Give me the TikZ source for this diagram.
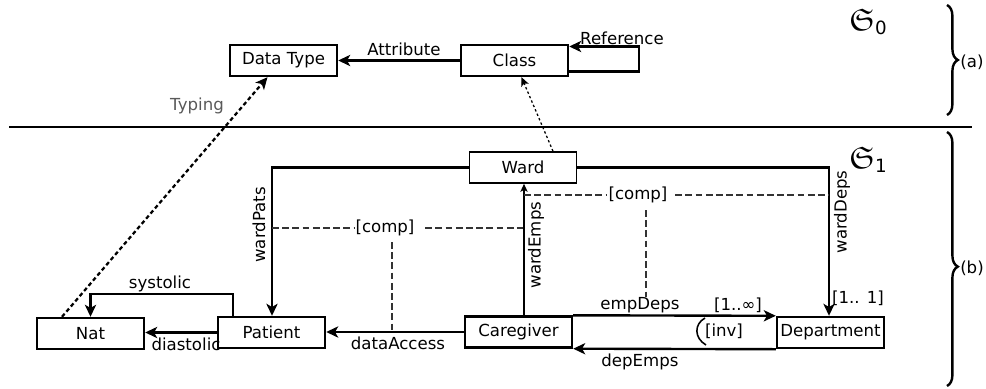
\documentclass[tikz,border=0pt]{standalone}
\usepackage{amssymb}
\usepackage{fontspec}
\setmainfont{DejaVu Sans}
\usetikzlibrary{arrows.meta,calc,decorations.pathreplacing}

\newcommand{\levelname}[1]{{\fontsize{22}{24}\selectfont$\mathfrak{S}$}\raisebox{-0.45ex}{\fontsize{13}{14}\selectfont #1}}

\begin{document}
\begin{tikzpicture}[x=0.025cm,y=-0.025cm,
  font=\fontsize{11.8}{13.5}\selectfont,
  box/.style={draw, line width=1.7pt, minimum width=2.675cm, minimum height=0.775cm, inner sep=0pt},
  thinbox/.style={box, line width=1.1pt},
  rel/.style={line width=1.7pt, -{Stealth[length=3mm,width=2.8mm,inset=0.8mm]}},
  thinrel/.style={line width=1.1pt, -{Stealth[length=2mm,width=1.8mm,inset=0.5mm]}},
  typing/.style={line width=1.6pt, dash pattern=on 1mm off 0.7mm, -{Stealth[length=3mm,width=2.8mm,inset=0.8mm]}},
  instance/.style={line width=0.9pt, dash pattern=on 0.6mm off 0.6mm, -{Stealth[length=2.2mm,width=2mm,inset=0.5mm]}},
  compline/.style={draw=black!80, line width=1.4pt, dash pattern=on 1.7mm off 0.85mm},
  lbl/.style={inner sep=1pt},
  bracestyle/.style={line width=1.7pt, decorate, decoration={brace, amplitude=0.27cm}}]

\useasboundingbox (0,0) rectangle (986,388);

% ---- level 0: metamodel ----
\node[box] (dtype) at (283.5,60.5) {Data Type};
\node[box] (class) at (514.5,60.5) {Class};

\draw[rel] (class.west) -- (dtype.east);
\node[lbl] at (404,49) {Attribute};

\draw[rel] ($(class.east)+(0,11)$) -| ($(class.east)+(70,-14)$) coordinate (refc) -- ($(class.east)+(0,-14)$);
\node[lbl] at (622,38) {Reference};

% separator between the two levels
\coordinate (sepL) at (9,127);
\coordinate (sepR) at (972,127);
\draw[line width=1.6pt] (sepL) -- (sepR);

% level names and braces
\node (s0) at (868,22) {\levelname{0}};
\node (s1) at (868,160) {\levelname{1}};
\coordinate (ba1) at (947,5);
\coordinate (ba2) at (947,115);
\draw[bracestyle] (ba1) -- (ba2);
\node (la) at (972,62) {\fontsize{11.8}{13}\selectfont(a)};
\coordinate (bb1) at (947,132);
\coordinate (bb2) at (947,386);
\draw[bracestyle, decoration={aspect=0.53}] (bb1) -- (bb2);
\node (lb) at (972,268) {\fontsize{11.8}{13}\selectfont(b)};

% ---- level 1: model ----
\node[thinbox] (ward) at (523,167.5) {Ward};
\node[box] (nat) at (90.5,333.5) {Nat};
\node[box] (patient) at (271.5,332.5) {Patient};
\node[box] (care) at (518.5,332) {Caregiver};
\node[box] (dept) at (830.5,332.5) {Department};

% typing links into level 0
\draw[instance] ($(ward.north)+(30,0)$) -- ($(class.south)+(7,0)$);
\draw[typing] ($(nat.north)+(-28.5,0)$) -- ($(dtype.south)+(-16,0)$);
\node[lbl, text=black!65] at (197,106) {Typing};

% references of Ward
\draw[rel] (ward.west) -| ($(patient.north)+(0.5,0)$);
\node[lbl, rotate=90] at (259,225) {wardPats};
\draw[rel] (ward.east) -| ($(dept.north)+(-1.5,0)$);
\node[lbl, rotate=90] at (842,212) {wardDeps};
\node[lbl] at (858,298) {[1.. 1]};

% attributes of Patient
\draw[rel] ($(patient.north)+(-38.5,0)$) -- ++(0,-22) -| (nat.north);
\node[lbl] at (160,284) {systolic};
\draw[rel] (patient.west) -- (patient.west -| nat.east);
\node[lbl] at (186,344) {diastolic};

% references of Caregiver
\draw[rel] (care.west) -- (care.west -| patient.east);
\node[lbl] at (398,343) {dataAccess};
\draw[thinrel] ($(care.north)+(5.5,0)$) -- ($(ward.south)+(1,0)$);
\node[lbl, rotate=90] at (536,245) {wardEmps};
\draw[rel] (care.north east) -- (dept.north west);
\node[lbl] at (640,305) {empDeps};
\node[lbl] at (738,305) {[1..∞]};
\draw[rel] (dept.south west) -- (care.south east);
\node[lbl] at (640,362) {depEmps};

% inverse constraint
\draw[line width=1.1pt] (705,318) .. controls (694,324) and (694,338) .. (706,345);
\node[lbl] (inv) at (724,331) {[inv]};

% composition constraints
\node[lbl] (comp1) at (385,228) {[comp]};
\draw[compline] (272,228) -- (comp1.west);
\draw[compline] ($(comp1.east)+(9,0)$) -- (523,228);
\draw[compline] (392,242) -- (392,331);

\node[lbl] (comp2) at (638,195) {[comp]};
\draw[compline] (524,195) -- (comp2.west);
\draw[compline] ($(comp2.east)+(6,0)$) -- (829,195);
\draw[compline] (646,210) -- (646,297);

\end{tikzpicture}
\end{document}
